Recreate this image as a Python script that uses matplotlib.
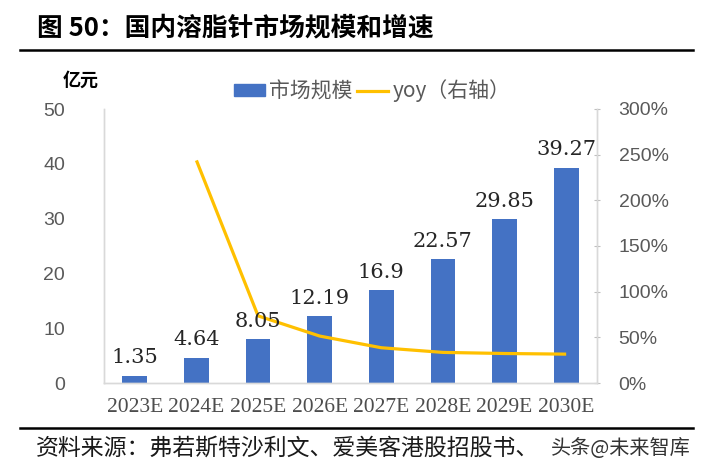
import matplotlib
matplotlib.use("Agg")
import matplotlib.pyplot as plt
from matplotlib.lines import Line2D
from matplotlib.patches import Patch
from matplotlib.ticker import FuncFormatter

plt.rcParams['font.family'] = ['Noto Sans CJK SC', 'DejaVu Sans']

# data
years = ["2023E", "2024E", "2025E", "2026E", "2027E", "2028E", "2029E", "2030E"]
market_size = [1.35, 4.64, 8.05, 12.19, 16.9, 22.57, 29.85, 39.27]   # 亿元
size_labels = ["1.35", "4.64", "8.05", "12.19", "16.9", "22.57", "29.85", "39.27"]
yoy_years = years[1:]
yoy_pct = [243.7, 73.5, 51.4, 38.6, 33.5, 32.3, 31.6]

BLUE = "#4472C4"
YELLOW = "#FFC000"
GREY_TXT = "#595959"
AXIS = "#D9D9D9"

fig = plt.figure(figsize=(7.04, 4.75), dpi=100)
ax = fig.add_axes([104 / 704, 1 - 383 / 475, 493 / 704, 274 / 475])
ax2 = ax.twinx()

x = list(range(len(years)))
ax.bar(x, market_size, width=0.4, color=BLUE, zorder=2)
yoy_x = [years.index(y) for y in yoy_years]
ax2.plot(yoy_x, yoy_pct, color=YELLOW, lw=2.3, solid_joinstyle='round',
         solid_capstyle='butt', zorder=3)

# value labels above the bars (drawn on top of the line)
for xi, v, lab in zip(x, market_size, size_labels):
    ax2.annotate(lab, xy=(xi, v), xycoords=ax.transData, xytext=(0, 6),
                 textcoords="offset points", ha="center", va="bottom",
                 fontsize=15, family="DejaVu Serif", color="#262626", zorder=5)

ax.set_xlim(-0.5, len(years) - 0.5)
ax.set_ylim(0, 50)
ax.set_yticks(range(0, 51, 10))
ax2.set_ylim(0, 300)
ax2.set_yticks(range(0, 301, 50))
ax2.yaxis.set_major_formatter(FuncFormatter(lambda v, p: f"{int(v)}%"))

ax.set_xticks(x)
ax.set_xticklabels(years, family="Liberation Serif", fontsize=15.5, color="#4d4d4d")
for lbl in ax.get_yticklabels():
    lbl.set_family("Liberation Sans")
for lbl in ax2.get_yticklabels():
    lbl.set_family("Liberation Sans")
ax.tick_params(axis='x', length=0, pad=11)
ax.tick_params(axis='y', length=0, pad=28, labelsize=14, labelcolor=GREY_TXT)
ax2.tick_params(axis='y', length=5, direction='inout', color="#BFBFBF", pad=13,
                labelsize=14, labelcolor=GREY_TXT)

for a in (ax, ax2):
    a.spines['top'].set_visible(False)
    for s in ('left', 'right', 'bottom'):
        a.spines[s].set_color(AXIS)
        a.spines[s].set_linewidth(1.0)

# legend
handles = [Patch(color=BLUE), Line2D([0], [0], color=YELLOW, lw=2.3)]
fig.legend(handles, ["市场规模", "yoy（右轴）"], loc="center",
           bbox_to_anchor=(372 / 704, 1 - 91 / 475), ncol=2, frameon=False,
           handlelength=1.5, handleheight=0.45, handletextpad=0.2,
           columnspacing=0.2, prop={'size': 15}, labelcolor=GREY_TXT)

# title, unit, rules and source
fig.text(37 / 704, 1 - 28 / 475, "图 50：国内溶脂针市场规模和增速",
         fontsize=18.5, fontweight="bold", va="center", ha="left")
fig.text(81 / 704, 1 - 80 / 475, "亿元", fontsize=13, fontweight="bold",
         va="center", ha="center")
fig.add_artist(Line2D([20 / 704, 693 / 704], [1 - 50 / 475] * 2, color="black", lw=1.8))
fig.add_artist(Line2D([20 / 704, 693 / 704], [1 - 428 / 475] * 2, color="black", lw=1.8))
fig.text(36 / 704, 1 - 448 / 475, "资料来源：弗若斯特沙利文、爱美客港股招股书、",
         fontsize=16.5, va="center", ha="left", color="#1a1a1a")
fig.text(691 / 704, 1 - 448 / 475, "头条@未来智库", fontsize=14.5,
         va="center", ha="right", color="#333333")

fig.savefig("out.png", dpi=100)
